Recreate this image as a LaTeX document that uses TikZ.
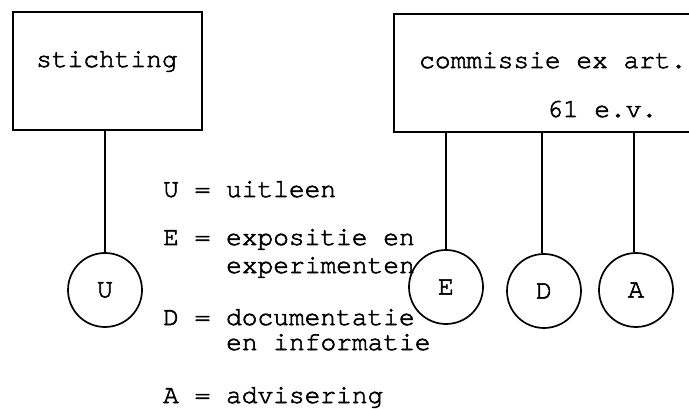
\documentclass[tikz,border=0pt]{standalone}
\usepackage{fontspec}
\setmonofont{texgyrecursor-regular.otf}
\begin{document}
\begin{tikzpicture}[x=1pt,y=-1pt,
  heavy/.style={execute at begin node={\special{pdf:code 2 Tr 0.55 w}}, execute at end node={\special{pdf:code 0 Tr}}},
  txt/.style={heavy, font=\ttfamily\fontsize{26.2}{30}\selectfont, inner sep=0pt, anchor=base west},
  boxx/.style={draw, line width=1.7pt, inner sep=0pt},
  circ/.style={draw, circle, line width=1.7pt, minimum size=74pt, inner sep=0pt, font=\ttfamily\fontsize{27}{30}\selectfont},
  conn/.style={line width=1.6pt}]
\clip (0,0) rectangle (689,409);
\fill[white] (0,0) rectangle (689,409);
% boxes
\node[boxx, minimum width=189pt, minimum height=118pt] (stich) at (107.5,71) {};
\node[boxx, minimum width=420pt, minimum height=118pt, anchor=north west] (comm) at (393,13) {};
\node[txt] (stichtxt) at (36,67) {stichting};
\node[txt] (commtxt) at (419,68) {commissie ex art.};
\node[txt] (commtxt2) at (547,117) {61 e.v.};
% circles
\node[circ] (U) at (105,290) {\special{pdf:code 2 Tr 0.55 w}U\special{pdf:code 0 Tr}};
\node[circ] (E) at (446,287) {\special{pdf:code 2 Tr 0.55 w}E\special{pdf:code 0 Tr}};
\node[circ] (D) at (544,291) {\special{pdf:code 2 Tr 0.55 w}D\special{pdf:code 0 Tr}};
\node[circ] (A) at (636,290) {\special{pdf:code 2 Tr 0.55 w}A\special{pdf:code 0 Tr}};
% connectors
\draw[conn] (U.north) -- (U.north |- stich.south);
\draw[conn] (E.north) -- (E.north |- comm.south);
\draw[conn] ([xshift=-2pt]D.north) -- ([xshift=-2pt]D.north |- comm.south);
\draw[conn] ([xshift=-2pt]A.north) -- ([xshift=-2pt]A.north |- comm.south);
% legend
\node[txt] (lu) at (163,197) {U = uitleen};
\node[txt] (le) at (163,245) {E = expositie en};
\node[txt] (le2) at (226,273) {experimenten};
\node[txt] (ld) at (163,325) {D = documentatie};
\node[txt] (ld2) at (226,350) {en informatie};
\node[txt] (la) at (163,403) {A = advisering};
\end{tikzpicture}
\end{document}
